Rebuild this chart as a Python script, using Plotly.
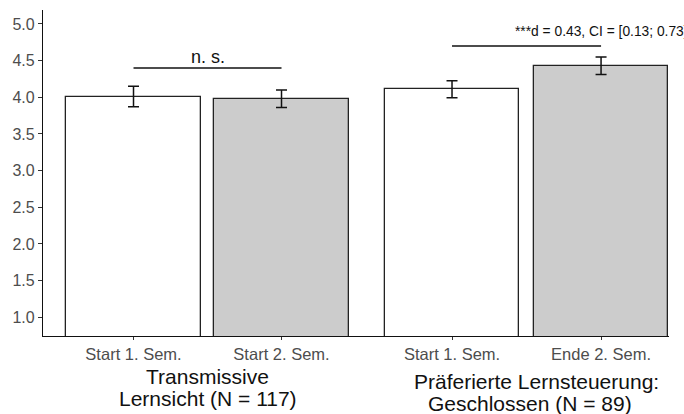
import plotly.graph_objects as go

categories = ["Start 1. Sem.", "Start 2. Sem.", "Start 1. Sem.", "Ende 2. Sem."]
x_pos = [1, 2, 3.152, 4.159]
means = [4.01, 3.98, 4.11, 4.43]
errors = [0.14, 0.12, 0.115, 0.12]
bar_colors = ["#ffffff", "#cccccc", "#ffffff", "#cccccc"]
group_labels = [["Transmissive", "Lernsicht (N = 117)"],
                ["Präferierte Lernsteuerung:", "Geschlossen (N = 89)"]]
sig_texts = ["n. s.", "***d = 0.43, CI = [0.13; 0.73]"]
sig_line_y = [4.40, 4.70]
sig_text_y = [4.55, 4.90]
y_ticks = [1.0, 1.5, 2.0, 2.5, 3.0, 3.5, 4.0, 4.5, 5.0]

FONT = "Liberation Sans, Arial, sans-serif"

fig = go.Figure()
fig.add_trace(go.Bar(
    x=x_pos, y=means, width=0.91,
    marker=dict(color=bar_colors, line=dict(color="#222222", width=1.3)),
    error_y=dict(type="data", array=errors, color="#111111", thickness=1.5, width=5.5),
    showlegend=False, hoverinfo="skip",
))

# significance lines
fig.add_shape(type="line", x0=x_pos[0], x1=x_pos[1], y0=sig_line_y[0], y1=sig_line_y[0],
              line=dict(color="#111111", width=1.5))
fig.add_shape(type="line", x0=x_pos[2], x1=x_pos[3], y0=sig_line_y[1], y1=sig_line_y[1],
              line=dict(color="#111111", width=1.5))
fig.add_annotation(x=(x_pos[0] + x_pos[1]) / 2, y=sig_text_y[0], text=sig_texts[0],
                   showarrow=False, xanchor="center", yanchor="middle",
                   font=dict(family=FONT, size=18, color="#111111"))
fig.add_annotation(x=x_pos[3], y=sig_text_y[1], text=sig_texts[1],
                   showarrow=False, xanchor="center", yanchor="middle",
                   font=dict(family=FONT, size=13.8, color="#111111"))

# group labels
g1 = (x_pos[0] + x_pos[1]) / 2
g2 = (x_pos[2] + x_pos[3]) / 2
label_font = dict(family=FONT, size=21, color="#111111")
fig.add_annotation(x=g1, y=-0.125, yref="paper", text=group_labels[0][0], showarrow=False,
                   xanchor="center", yanchor="middle", font=label_font)
fig.add_annotation(x=g1, y=-0.192, yref="paper", text=group_labels[0][1], showarrow=False,
                   xanchor="center", yanchor="middle", font=label_font)
fig.add_annotation(x=g2 + 0.07, y=-0.140, yref="paper", text=group_labels[1][0], showarrow=False,
                   xanchor="center", yanchor="middle", font=label_font)
fig.add_annotation(x=g2 + 0.025, y=-0.206, yref="paper", text=group_labels[1][1], showarrow=False,
                   xanchor="center", yanchor="middle", font=label_font)

fig.update_layout(
    width=684, height=414,
    margin=dict(l=43, r=15, t=10, b=78, autoexpand=False),
    plot_bgcolor="white", paper_bgcolor="white",
    bargap=0,
    xaxis=dict(range=[0.3885, 4.618], tickmode="array", tickvals=x_pos, ticktext=categories,
               automargin=False,
               showgrid=False, zeroline=False, showline=True, linecolor="#111111", linewidth=1.2,
               ticks="outside", ticklen=3, tickcolor="#333333",
               tickfont=dict(family=FONT, size=16.5, color="#4d4d4d")),
    yaxis=dict(range=[0.745, 5.19], tickmode="array", tickvals=y_ticks,
               ticktext=[f"{v:.1f}" for v in y_ticks], automargin=False,
               showgrid=False, zeroline=False, showline=True, linecolor="#111111", linewidth=1.2,
               ticks="outside", ticklen=4, tickcolor="#333333",
               tickfont=dict(family=FONT, size=16, color="#4d4d4d")),
)

fig.write_html("out.html", config={"displayModeBar": False},
               post_script="document.body.style.margin='0px';")
